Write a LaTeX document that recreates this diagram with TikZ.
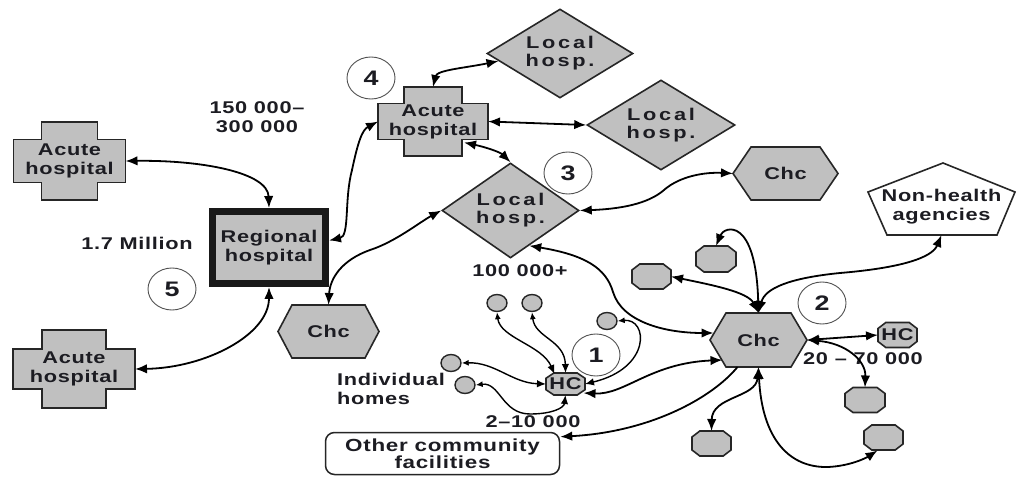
\documentclass[tikz,border=0pt]{standalone}
\usepackage{fontspec}
\setmainfont{Liberation Sans}
\newfontfamily\labfont{Liberation Sans}[FakeStretch=1.28,LetterSpace=4]
\newfontfamily\widefont{Liberation Sans}[FakeStretch=1.28,LetterSpace=16]
\usetikzlibrary{shapes.geometric,arrows.meta,calc}

\definecolor{shapegray}{RGB}{192,192,192}
\definecolor{edge}{RGB}{38,38,38}
\definecolor{ink}{RGB}{28,28,34}

% cross outline: centre, half width/height of the bar, half width/height of the post
\newcommand\crossshape[5]{\path[shp,shift={(#1)}] (-#4,-#5) -- (#4,-#5) -- (#4,-#3) -- (#2,-#3) -- (#2,#3) -- (#4,#3) -- (#4,#5) -- (-#4,#5) -- (-#4,#3) -- (-#2,#3) -- (-#2,-#3) -- (-#4,-#3) -- cycle;}
% hexagon pointing left and right: centre, half width, half height, inset
\newcommand\hexshape[4]{\path[shp,shift={(#1)}] (-#2,0) -- (-#2+#4,-#3) -- (#2-#4,-#3) -- (#2,0) -- (#2-#4,#3) -- (-#2+#4,#3) -- cycle;}
% octagon: centre, half width, half height
\newcommand\octshape[3]{\path[shp,shift={(#1)}] (-0.6*#2,-#3) -- (0.6*#2,-#3) -- (#2,-0.52*#3) -- (#2,0.52*#3) -- (0.6*#2,#3) -- (-0.6*#2,#3) -- (-#2,0.52*#3) -- (-#2,-0.52*#3) -- cycle;}

\tikzset{
  shp/.style={fill=shapegray, draw=edge, line width=1.6pt},
  txt/.style={font=\labfont\bfseries\fontsize{17}{19}\selectfont, text=ink, align=center, inner sep=0pt},
  holder/.style={txt, outer sep=0pt},
  lhosp/.style={diamond, shp, minimum width=146pt, minimum height=89pt, aspect=1.64, inner sep=0pt,
    font=\widefont\bfseries\fontsize{17}{18}\selectfont, text=ink, align=center},
  home/.style={ellipse, shp, line width=1.4pt, minimum width=20pt, minimum height=17pt, inner sep=0pt},
  numcirc/.style={ellipse, draw=edge!80, fill=white, line width=0.9pt, minimum width=48pt, minimum height=42pt,
    inner sep=0pt, font=\labfont\bfseries\fontsize{21}{21}\selectfont, text=ink},
  link/.style={draw=black, line width=1.8pt, {Latex[length=12pt,width=9.5pt]}-{Latex[length=12pt,width=9.5pt]}},
  onelink/.style={draw=black, line width=1.8pt, -{Latex[length=12pt,width=9.5pt]}},
  homelink/.style={draw=black, line width=1.4pt, {Latex[length=7pt,width=6pt]}-{Latex[length=9pt,width=7.5pt]}},
}

\begin{document}
\begin{tikzpicture}[x=1pt,y=-1pt]
\fill[white] (0,0) rectangle (1017,478);
\useasboundingbox (0,0) rectangle (1017,478);

% ---- hospitals ----
\crossshape{69.5,161}{56}{21.5}{28}{39}
\node[holder, minimum width=112pt, minimum height=78pt] (acA) at (69.5,161) {Acute\\hospital};
\crossshape{74,369}{61}{20}{32}{39}
\node[holder, minimum width=122pt, minimum height=78pt] (acB) at (74,369) {Acute\\hospital};
\crossshape{433,121.5}{55}{18}{29}{34.5}
\node[holder, minimum width=110pt, minimum height=69pt] (ac4) at (433,121.5) {Acute\\hospital};

\node[txt, shp, line width=7pt, draw=black!90, minimum width=113pt, minimum height=72pt] (reg) at (269,247.5) {Regional\\hospital};

\node[lhosp] (lh1) at (560,53.5) {Local\\hosp.};
\node[lhosp, minimum width=148pt, minimum height=90pt] (lh2) at (661,125) {Local\\hosp.};
\node[lhosp, minimum width=137pt, minimum height=95pt, aspect=1.44] (lh3) at (510.5,210.5) {Local\\hosp.};

% ---- community health centres ----
\hexshape{785.5,173.5}{52.5}{26.5}{18}
\node[holder, minimum width=105pt, minimum height=53pt] (chcT) at (785.5,173.5) {Chc};
\hexshape{758.5,340}{48.5}{27}{16}
\node[holder, minimum width=97pt, minimum height=54pt] (chc2) at (758.5,340) {Chc};
\hexshape{328.5,331.5}{50.5}{26.5}{14}
\node[holder, minimum width=101pt, minimum height=53pt] (chcL) at (328.5,331.5) {Chc};

% ---- non-health agencies ----
\path[shp, fill=white] (943,163) -- (1015,192) -- (997,235) -- (887,235) -- (868,192) -- cycle;
\node[holder, minimum width=147pt, minimum height=56pt] (nh) at (941.5,207) {Non-health\\agencies};

% ---- health centres and small units ----
\octshape{565.5,384}{19.5}{11}
\node[holder, minimum width=39pt, minimum height=22pt] (hc1) at (565.5,384) {HC};
\octshape{897.5,335}{19.5}{12.5}
\node[holder, minimum width=39pt, minimum height=25pt] (hcR) at (897.5,335) {HC};
\octshape{716,259}{20}{13}
\node[holder, minimum width=40pt, minimum height=26pt] (o1) at (716,259) {};
\octshape{651.5,276.5}{19.5}{12.5}
\node[holder, minimum width=39pt, minimum height=25pt] (o2) at (651.5,276.5) {};
\octshape{865,400}{20}{12.5}
\node[holder, minimum width=40pt, minimum height=25pt] (o3) at (865,400) {};
\octshape{711.5,443.5}{19.5}{12.5}
\node[holder, minimum width=39pt, minimum height=25pt] (o4) at (711.5,443.5) {};
\octshape{883.5,437.5}{19.5}{12.5}
\node[holder, minimum width=39pt, minimum height=25pt] (o5) at (883.5,437.5) {};

% ---- individual homes ----
\node[home] (c1) at (497,303) {};
\node[home] (c2) at (532,303) {};
\node[home] (c3) at (607,321) {};
\node[home] (c4) at (451,363) {};
\node[home] (c5) at (465,385) {};

\node[txt, draw=edge, fill=white, line width=1.5pt, rounded corners=9pt, minimum width=234pt, minimum height=42pt,
  font=\labfont\bfseries\fontsize{17.5}{17.5}\selectfont] (oth) at (442.5,453.5) {Other community\\facilities};

% ---- levels ----
\node[numcirc] (n4) at (371,78) {4};
\node[numcirc] (n3) at (568,173) {3};
\node[numcirc] (n5) at (172,289) {5};
\node[numcirc] (n1) at (596,355) {1};
\node[numcirc] (n2) at (822,303) {2};

% ---- population figures ----
\node[txt] (p150) at (257,117) {150 000–\\300 000};
\node[txt] (p17) at (137,243) {1.7 Million};
\node[txt] (p100) at (520,271) {100 000+};
\node[txt, align=left, anchor=west] (phomes) at (337,389) {Individual\\homes};
\node[txt] (p2) at (533,422) {2–10 000};
\node[txt] (p20) at (863,359) {20 – 70 000};

% ---- connectors ----
\draw[link] (acA.east) .. controls (200,160) and (268,172) .. (reg.north);
\draw[link] (acB.east) .. controls (205,368) and (269,335) .. (reg.south);
\draw[link] ([yshift=7pt]reg.east) .. controls (350,236) and (344,200) .. (352,170) .. controls (358,142) and (362,130) .. (ac4.west);
\draw[link] (ac4.north) .. controls (437,70) and (465,68) .. (lh1.187);
\draw[link] (ac4.east) -- (lh2.west);
\draw[link] ($(ac4.center)+(31,21)$) .. controls (485,147) and (500,152) .. (lh3.north);
\draw[link] (lh3.west) .. controls (420,222) and (395,242) .. (370,250) .. controls (342,260) and (330,278) .. (chcL.north);
\draw[link] (lh3.east) .. controls (620,209) and (648,204) .. (664,190) .. controls (680,176) and (705,172) .. (chcT.west);
\draw[link] (lh3.-62) .. controls (585,255) and (606,268) .. (613,292) .. controls (622,322) and (665,333) .. ($(chc2.center)+(-45,-7)$);

\draw[link] ($(hc1.center)+(18,9)$) .. controls (625,395) and (650,363) .. ($(chc2.center)+(-36,20)$);
\draw[homelink] (c3.east) .. controls (648,318) and (652,368) .. (hc1.east);
\draw[onelink] ($(chc2.center)+(-21,27)$) .. controls (712,398) and (650,432) .. ([yshift=-5pt]oth.north east);

\draw[link] (o1.north) .. controls (724,226) and (756,216) .. (chc2.north);
\draw[link] (o2.east) .. controls (712,285) and (748,292) .. (chc2.north);
\draw[link] (chc2.north) .. controls (765,288) and (790,278) .. (840,273) .. controls (900,268) and (932,258) .. (nh.south);
\draw[link] (chc2.east) -- (hcR.west);
\draw[link] (chc2.east) .. controls (845,343) and (866,360) .. (o3.north);
\draw[link] (chc2.south) .. controls (756,398) and (712,396) .. (o4.north);
\draw[link] (chc2.south) .. controls (762,440) and (790,468) .. (828,467) .. controls (850,466) and (866,458) .. ($(o5.center)+(-6,13)$);

\draw[homelink] (c1.south) .. controls (500,338) and (542,345) .. ($(hc1.center)+(-11,-10)$);
\draw[homelink] (c2.south) .. controls (535,338) and (565,340) .. (hc1.north);
\draw[homelink] (c4.east) .. controls (495,362) and (512,383) .. (hc1.west);
\draw[homelink] (c5.east) .. controls (500,382) and (502,414) .. (530,414) .. controls (552,414) and (564,408) .. (hc1.south);
\end{tikzpicture}
\end{document}
